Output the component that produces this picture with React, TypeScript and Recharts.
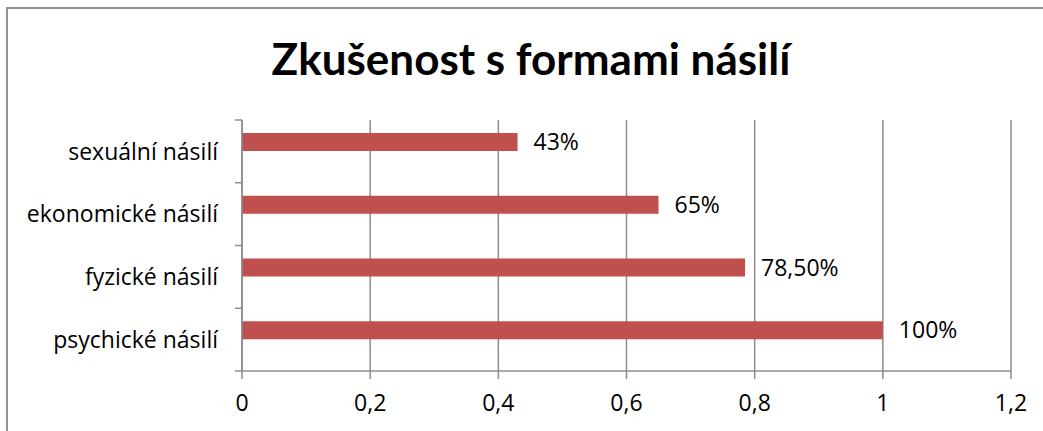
import { BarChart, Bar, XAxis, YAxis, CartesianGrid, LabelList } from 'recharts';

const categories = ['sexuální násilí', 'ekonomické násilí', 'fyzické násilí', 'psychické násilí'];
const values = [0.43, 0.65, 0.785, 1.0];
const valueLabels = ['43%', '65%', '78,50%', '100%'];
const xTicks = [0, 0.2, 0.4, 0.6, 0.8, 1, 1.2];

const data = categories.map((name, i) => ({
    name,
    value: values[i],
    label: valueLabels[i],
    empty: null,
}));

const FONT = '"Open Sans", sans-serif';
const TITLE_FONT = 'Lato, "Open Sans", sans-serif';
const GRID = '#8c8c8c';

/** popisek kategorie + zarážky mezi kategoriemi (jako v Excelu) */
function CategoryTick(props: any) {
    const { x, y, payload, index, visibleTicksCount } = props;
    const half = payload?.offset ?? 0;
    const last = index === visibleTicksCount - 1;
    return (
        <g>
            <line x1={x - 7} x2={x} y1={y - half} y2={y - half} stroke={GRID} strokeWidth={1.5} />
            {last && <line x1={x - 7} x2={x} y1={y + half} y2={y + half} stroke={GRID} strokeWidth={1.5} />}
            <text x={x - 24} y={y} dy="0.36em" textAnchor="end" fill="#000" fontSize={23} fontFamily={FONT}>
                {payload.value}
            </text>
        </g>
    );
}

export default function App() {
    return (
        <div style={{ position: 'absolute', left: 0, top: 0, width: 1043, height: 431, background: '#fff', overflow: 'hidden' }}>
            <div
                style={{
                    position: 'absolute',
                    left: 6,
                    top: 7,
                    width: 1100,
                    height: 500,
                    borderLeft: '2px solid #949494',
                    borderTop: '2px solid #949494',
                }}
            />
            <div
                style={{
                    position: 'absolute',
                    left: 0,
                    top: 30,
                    width: 1062,
                    textAlign: 'center',
                    fontFamily: TITLE_FONT,
                    fontWeight: 700,
                    fontSize: 44,
                    lineHeight: '56px',
                    color: '#000',
                }}
            >
                Zkušenost s formami násilí
            </div>
            <div style={{ position: 'absolute', left: 0, top: 0 }}>
                <BarChart
                    width={1043}
                    height={431}
                    data={data}
                    layout="vertical"
                    margin={{ top: 120, right: 32, bottom: 0, left: 0 }}
                    barSize={18}
                    barGap={0}
                    barCategoryGap="20%"
                >
                    <CartesianGrid horizontal={false} stroke={GRID} strokeWidth={1.5} />
                    <XAxis
                        type="number"
                        domain={[0, 1.2]}
                        ticks={xTicks}
                        interval={0}
                        height={60}
                        tickSize={8}
                        tickMargin={16}
                        tickFormatter={(v: number) => String(v).replace('.', ',')}
                        tick={{ fill: '#000', fontSize: 23, fontFamily: FONT }}
                        axisLine={{ stroke: GRID, strokeWidth: 1.5 }}
                        tickLine={{ stroke: GRID, strokeWidth: 1.5 }}
                    />
                    <YAxis
                        type="category"
                        dataKey="name"
                        width={242}
                        tickSize={0}
                        tickMargin={0}
                        tickLine={false}
                        tick={<CategoryTick />}
                        axisLine={{ stroke: GRID, strokeWidth: 1.5 }}
                    />
                    <Bar dataKey="value" fill="#C0504D" isAnimationActive={false}>
                        <LabelList
                            dataKey="label"
                            position="right"
                            offset={16}
                            fill="#000"
                            fontSize={23}
                            fontFamily={FONT}
                        />
                    </Bar>
                    <Bar dataKey="empty" fill="#4F81BD" isAnimationActive={false} />
                </BarChart>
            </div>
        </div>
    );
}
